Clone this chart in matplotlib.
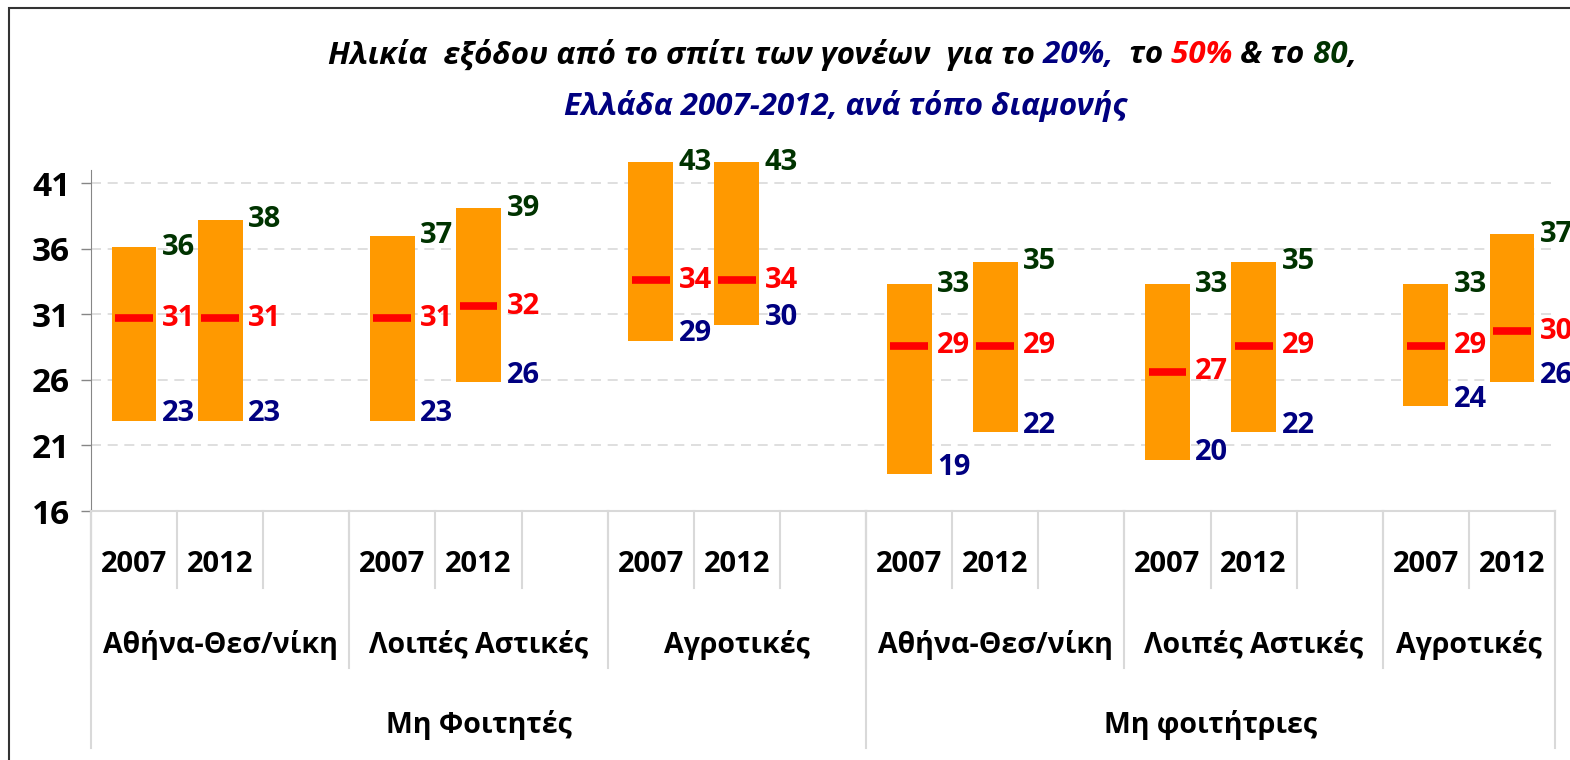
import matplotlib
matplotlib.use('Agg')
import matplotlib.pyplot as plt
import matplotlib.transforms as mtransforms
from matplotlib.patches import Rectangle

plt.rcParams['font.family'] = ['Open Sans', 'DejaVu Sans']

years  = ['2007', '2012']
areas  = ['Αθήνα-Θεσ/νίκη', 'Λοιπές Αστικές', 'Αγροτικές']
groups = ['Μη Φοιτητές', 'Μη φοιτήτριες']

# one value per bar: group -> area -> year
p20 = [22.9, 22.9, 22.9, 25.8, 29.0, 30.2, 18.8, 22.0, 19.9, 22.0, 24.0, 25.8]
p50 = [30.7, 30.7, 30.7, 31.6, 33.6, 33.6, 28.6, 28.6, 26.6, 28.6, 28.6, 29.7]
p80 = [36.1, 38.2, 37.0, 39.1, 42.6, 42.6, 33.3, 35.0, 33.3, 35.0, 33.3, 37.1]

yticks = [16, 21, 26, 31, 36, 41]

ORANGE = '#FF9900'
RED    = '#FF0000'
NAVY   = '#000080'
GREEN  = '#003300'
GRID   = '#D9D9D9'

W, H = 1570, 760
fig = plt.figure(figsize=(W / 100, H / 100), dpi=100)

# plot area in pixels: x 91..1555, y 170..511
ax_l, ax_r, ax_t, ax_b = 91, 1555, 170, 511
ax = fig.add_axes([ax_l / W, 1 - ax_b / H, (ax_r - ax_l) / W, (ax_b - ax_t) / H])


def yfrac(ypx):
    # pixel row -> axes fraction (for the category rows under the plot)
    return (ax_b - ypx) / (ax_b - ax_t)


# slot positions: each group/area has 2007, 2012 and one empty slot
xs = []
for gi in range(len(groups)):
    for ai in range(len(areas)):
        for yi in range(len(years)):
            xs.append(gi * 9 + ai * 3 + yi)
n_slots = xs[-1] + 1

heights = [t - b for t, b in zip(p80, p20)]
ax.bar(xs, heights, bottom=p20, width=0.52, color=ORANGE, zorder=2, clip_on=False)
ax.hlines(p50, [x - 0.22 for x in xs], [x + 0.22 for x in xs],
          color=RED, lw=5.5, zorder=3)

lab_kw = dict(textcoords='offset points', ha='left', va='center',
              fontsize=21, fontweight='bold', annotation_clip=False)
for x, lo, mid, hi in zip(xs, p20, p50, p80):
    xr = x + 0.26
    ax.annotate(f'{hi:.0f}', (xr, hi), xytext=(4, 0), color=GREEN, **lab_kw)
    ax.annotate(f'{mid:.0f}', (xr, mid), xytext=(4, 0), color=RED, **lab_kw)
    ax.annotate(f'{lo:.0f}', (xr, lo), xytext=(4, 5), color=NAVY, **lab_kw)

ax.set_xlim(-0.5, n_slots - 0.5)
ax.set_ylim(16, 42)
ax.set_yticks(yticks)
ax.set_yticklabels([str(t) for t in yticks], fontsize=24, fontweight='bold')
ax.tick_params(axis='y', length=7, width=1, color='#868686', pad=8)
ax.set_xticks([])
ax.yaxis.grid(True, color=GRID, ls=(0, (6, 4)), lw=1.2)
ax.set_axisbelow(True)
for s in ('top', 'right'):
    ax.spines[s].set_visible(False)
ax.spines['left'].set_color('#868686')
ax.spines['bottom'].set_color(GRID)
ax.spines['bottom'].set_linewidth(1.5)

# multi-level category axis
trans = mtransforms.blended_transform_factory(ax.transData, ax.transAxes)
line_kw = dict(color=GRID, lw=1.5, transform=trans, clip_on=False)
cat_kw = dict(transform=trans, ha='center', va='center', fontweight='bold')

row1 = yfrac(588)
for k in range(n_slots + 1):
    ax.plot([k - 0.5, k - 0.5], [0, row1], **line_kw)
for x in xs:
    ax.text(x, yfrac(565), years[x % 3], fontsize=21, **cat_kw)

row2 = yfrac(668)
for gi in range(len(groups)):
    for ai, name in enumerate(areas):
        start = gi * 9 + ai * 3 - 0.5
        end = min(start + 3, n_slots - 0.5)
        ax.plot([start, start], [0, row2], **line_kw)
        ax.text((start + end) / 2, yfrac(645), name, fontsize=20.5, **cat_kw)

row3 = yfrac(748)
for gi, name in enumerate(groups):
    start = gi * 9 - 0.5
    end = min(start + 9, n_slots - 0.5)
    ax.plot([start, start], [0, row3], **line_kw)
    ax.text((start + end) / 2, yfrac(725), name, fontsize=20.5, **cat_kw)
ax.plot([n_slots - 0.5] * 2, [0, row3], **line_kw)

# title, built from coloured pieces
renderer = fig.canvas.get_renderer()


def colored_line(pieces, xc, y, **kw):
    texts = [fig.text(0, y, s, color=c, ha='left', va='center', **kw) for s, c in pieces]
    widths = [t.get_window_extent(renderer).width / W for t in texts]
    x = xc - sum(widths) / 2
    for t, w in zip(texts, widths):
        t.set_x(x)
        x += w


title_kw = dict(fontsize=22.5, fontweight='bold', fontstyle='italic')
colored_line([('Ηλικία  εξόδου από το σπίτι των γονέων  για το', 'black'),
              (' 20%,', NAVY), ('  το', 'black'), (' 50%', RED),
              (' & το', 'black'), (' 80', GREEN), (',', 'black')],
             842 / W, 1 - 55 / H, **title_kw)
colored_line([('Ελλάδα 2007-2012, ανά τόπο διαμονής', NAVY)],
             846 / W, 1 - 106 / H, **title_kw)

# chart frame (runs off the right and bottom edges)
fig.patches.append(Rectangle((9 / W, -0.2), 2, 1.2 - 8 / H, transform=fig.transFigure,
                             fill=False, edgecolor='#333333', lw=1.5))

fig.savefig('out.png', dpi=100)
